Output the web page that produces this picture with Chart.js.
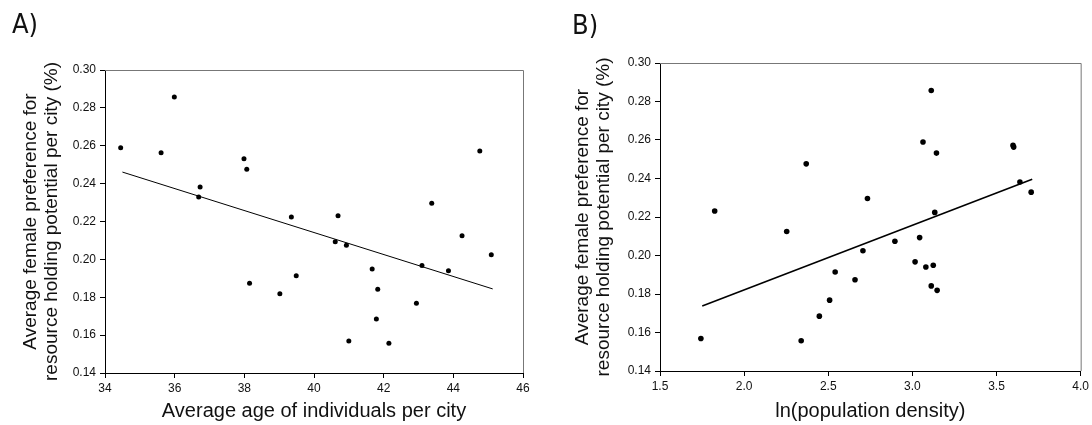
<!DOCTYPE html>
<html>
<head>
<meta charset="utf-8">
<script src="https://cdn.jsdelivr.net/npm/chart.js@4"></script>
<style>
    body { margin: 0; background: #fff; width: 1092px; height: 425px; overflow: hidden; position: relative; }
    .panel { position: absolute; top: 0; width: 546px; height: 425px; }
    .tag { position: absolute; font-family: 'Liberation Sans Narrow', 'DejaVu Sans Condensed', sans-serif; font-size: 27px; line-height: 30px; color: #111; }
</style>
</head>
<body>
<div class="panel" style="left:0"><canvas id="chartAge" width="546" height="425"></canvas></div>
<div class="panel" style="left:546px"><canvas id="chartDensity" width="546" height="425"></canvas></div>
<div class="tag" style="left:12px; top:9px">A)</div>
<div class="tag" style="left:572px; top:10px">B)</div>

<script>
// one value per city, same order in every array
const preference = [0.2857, 0.2590, 0.2572, 0.2563, 0.2532, 0.2476, 0.2382, 0.2329, 0.2296, 0.2231, 0.2224, 0.2125, 0.2093,
    0.2074, 0.2025, 0.1967, 0.1949, 0.1940, 0.1914, 0.1874, 0.1842, 0.1819, 0.1768, 0.1685, 0.1569, 0.1557];
const averageAge = [35.99, 34.45, 44.76, 35.61, 37.99, 38.07, 36.73, 36.69, 43.38, 40.69, 39.35, 44.25, 40.61,
    40.93, 45.09, 43.10, 41.67, 43.86, 39.49, 38.15, 41.83, 39.02, 42.94, 41.79, 41.00, 42.15];
const lnDensity = [3.112, 3.063, 3.598, 3.602, 3.143, 2.369, 3.639, 3.706, 2.733, 1.825, 3.133, 2.253, 3.043,
    2.896, 2.706, 3.016, 3.124, 3.080, 2.541, 2.659, 3.112, 3.147, 2.508, 2.447, 1.743, 2.339];

// regression line end points
const ageFitX = [34.5, 45.13];
const ageFitY = [0.2461, 0.1844];
const densityFitX = [1.751, 3.712];
const densityFitY = [0.1738, 0.2396];

const ageTicks = [34, 36, 38, 40, 42, 44, 46];
const densityTicks = [1.5, 2.0, 2.5, 3.0, 3.5, 4.0];
const prefTicks = [0.14, 0.16, 0.18, 0.20, 0.22, 0.24, 0.26, 0.28, 0.30];

const yTitle = ['Average female preference for', 'resource holding potential per city (%)'];

Chart.defaults.font.family = "'Liberation Sans', Arial, sans-serif";
Chart.defaults.color = '#111';
Chart.defaults.animation = false;

// grey top / right frame lines
const frame = {
    id: 'frame',
    afterDraw(chart) {
        const { ctx, chartArea: a } = chart;
        ctx.save();
        ctx.strokeStyle = '#777';
        ctx.lineWidth = 1;
        ctx.beginPath();
        ctx.moveTo(a.left, a.top + 0.5);
        ctx.lineTo(a.right + 0.5, a.top + 0.5);
        ctx.lineTo(a.right + 0.5, a.bottom);
        ctx.stroke();
        ctx.restore();
    },
};

function makeChart(id, xs, fitX, fitY, opts) {
    const points = xs.map((x, i) => ({ x: x, y: preference[i] }));
    const fit = fitX.map((x, i) => ({ x: x, y: fitY[i] }));
    return new Chart(document.getElementById(id), {
        type: 'scatter',
        data: {
            datasets: [
                {
                    data: points,
                    backgroundColor: '#000',
                    borderWidth: 0,
                    pointRadius: opts.radius,
                },
                {
                    type: 'line',
                    data: fit,
                    borderColor: '#000',
                    borderWidth: opts.lineWidth,
                    pointRadius: 0,
                    fill: false,
                },
            ],
        },
        options: {
            responsive: false,
            devicePixelRatio: 1,
            layout: { padding: { top: opts.top, right: opts.right, left: 0, bottom: 0 } },
            plugins: { legend: { display: false }, tooltip: { enabled: false } },
            scales: {
                x: {
                    type: 'linear',
                    min: opts.xTicks[0],
                    max: opts.xTicks[opts.xTicks.length - 1],
                    afterBuildTicks: (s) => { s.ticks = opts.xTicks.map((v) => ({ value: v })); },
                    afterFit: (s) => { s.height = opts.xHeight; },
                    ticks: {
                        font: { size: 12 },
                        padding: 3,
                        maxRotation: 0,
                        callback: opts.xLabel,
                    },
                    grid: { drawOnChartArea: false, tickLength: 5, tickColor: '#000' },
                    border: { color: '#000', width: 1 },
                    title: {
                        display: true,
                        text: opts.xTitle,
                        font: { size: 20 },
                        padding: { top: 0, bottom: 2 },
                    },
                },
                y: {
                    type: 'linear',
                    min: 0.14,
                    max: 0.30,
                    afterBuildTicks: (s) => { s.ticks = prefTicks.map((v) => ({ value: v })); },
                    afterFit: (s) => { s.width = opts.yWidth; },
                    ticks: {
                        font: { size: 12 },
                        padding: 4,
                        callback: (v) => v.toFixed(2),
                    },
                    grid: { drawOnChartArea: false, tickLength: 5, tickColor: '#000' },
                    border: { color: '#000', width: 1 },
                    title: {
                        display: true,
                        text: yTitle,
                        font: { size: 19, lineHeight: 1.1 },
                        padding: { top: opts.titleLeft, bottom: 0 },
                    },
                },
            },
        },
        plugins: [frame],
    });
}

makeChart('chartAge', averageAge, ageFitX, ageFitY, {
    radius: 2.5,
    lineWidth: 1,
    top: 70,
    right: 23,
    xHeight: 52,
    yWidth: 105,
    titleLeft: 20,
    xTicks: ageTicks,
    xLabel: (v) => String(v),
    xTitle: 'Average age of individuals per city',
});

makeChart('chartDensity', lnDensity, densityFitX, densityFitY, {
    radius: 2.8,
    lineWidth: 1.6,
    top: 63,
    right: 9,
    xHeight: 54,
    yWidth: 114,
    titleLeft: 26,
    xTicks: densityTicks,
    xLabel: (v) => v.toFixed(1),
    xTitle: 'ln(population density)',
});
</script>
</body>
</html>
